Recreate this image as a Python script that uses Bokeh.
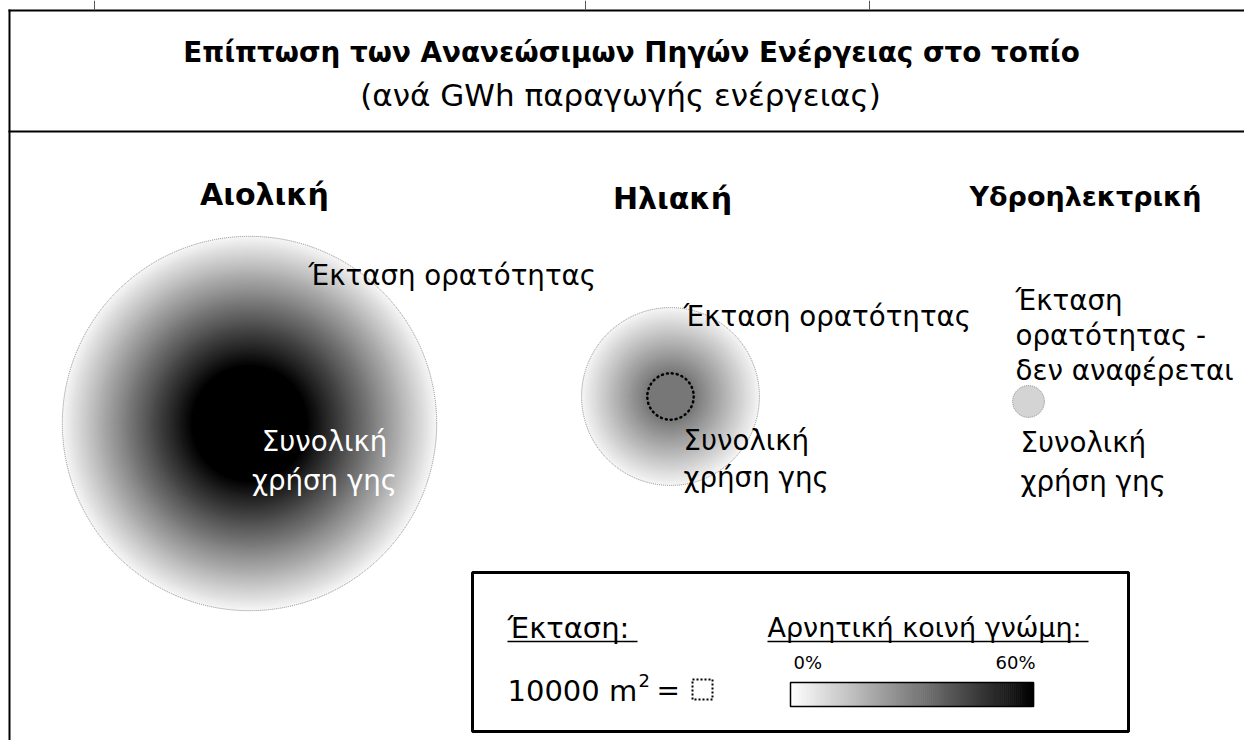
import math
from bokeh.plotting import figure
from bokeh.models import Range1d
from bokeh.core.properties import value
from bokeh.embed import file_html
from bokeh.resources import INLINE

# ---------------- data ----------------
title = "Επίπτωση των Ανανεώσιμων Πηγών Ενέργειας στο τοπίο"
subtitle = "(ανά GWh παραγωγής ενέργειας)"
categories = ["Αιολική", "Ηλιακή", "Υδροηλεκτρική"]
visibility_area_m2 = [2752000, 621000, None]       # Έκταση ορατότητας
land_use_area_m2 = [256000, 42300, 19850]          # Συνολική χρήση γης
negative_opinion_pct = [60, 32, 10]                # Αρνητική κοινή γνώμη
opinion_scale_pct = [0, 60]
opinion_tick_labels = ["0%", "60%"]
unit_area_m2 = 10000
visibility_label = [["Έκταση ορατότητας"], ["Έκταση ορατότητας"],
                    ["Έκταση", "ορατότητας -", "δεν αναφέρεται"]]
land_label = ["Συνολική", "χρήση γης"]

# ---------------- layout ----------------
FONT = "DejaVu Sans"
BOLD_FONT = "DejaVu Sans"
W, H = 1244, 740
UNIT_PX = 20.0                       # side of the 10000 m2 square in px
PX2_PER_M2 = UNIT_PX ** 2 / unit_area_m2
centers = [(249, 423), (670, 396), (1028, 401)]
EDGE_L = 0.96

p = figure(width=W, height=H, x_range=Range1d(0, W), y_range=Range1d(H, 0),
           output_backend="svg", toolbar_location=None, min_border=0,
           x_axis_location=None, y_axis_location=None)
p.grid.visible = False
p.outline_line_color = None
p.background_fill_color = "white"
p.border_fill_color = "white"


def radius_px(area):
    return math.sqrt(area * PX2_PER_M2 / math.pi)


def grey(l):
    v = int(round(max(0.0, min(1.0, l)) * 255))
    return "#%02x%02x%02x" % (v, v, v)


def txt(x, y, s, size, bold=False, color="black", align="left"):
    p.text(x=[x], y=[y], text=[s], text_font=value(BOLD_FONT if bold else FONT),
           text_font_size=f"{size}px", text_font_style="bold" if bold else "normal",
           text_color=color, text_align=align, text_baseline="middle")


def lines(x, y0, dy, items, size, **kw):
    for j, s in enumerate(items):
        txt(x, y0 + j * dy, s, size, **kw)


# frame lines
p.segment(x0=[9, 8, 8], y0=[9, 10, 131], x1=[9, W, W], y1=[H, 10, 131],
          line_color="black", line_width=2)
p.segment(x0=[94, 585, 869], y0=[0, 0, 0], x1=[94, 585, 869], y1=[9, 9, 9],
          line_color="#555555", line_width=1)

# title
txt(631, 52, title, 27.8, bold=True, align="center")
txt(620, 94, subtitle, 31, align="center")

# circles
for i, cat in enumerate(categories):
    cx, cy = centers[i]
    r_land = radius_px(land_use_area_m2[i])
    l_center = 1.0 - negative_opinion_pct[i] / opinion_scale_pct[1]
    if visibility_area_m2[i] is not None:
        R = radius_px(visibility_area_m2[i])
        n = 120
        rs, cols = [], []
        for k in range(n):
            t = 1.0 - k / n
            r = r_land + (R - r_land) * t
            rs.append(r)
            cols.append(grey(l_center + (EDGE_L - l_center) * t))
        p.circle(x=[cx] * n, y=[cy] * n, radius=rs, fill_color=cols, line_color=None)
        p.circle(x=[cx], y=[cy], radius=[r_land], fill_color=grey(l_center), line_color=None)
        p.circle(x=[cx], y=[cy], radius=[R], fill_color=None, line_color="#8a8a8a",
                 line_width=1, line_dash="1 1")
        p.circle(x=[cx], y=[cy], radius=[r_land], fill_color=None, line_color="black",
                 line_width=2.5, line_dash="1 4", line_cap="round")
    else:
        p.circle(x=[cx], y=[cy], radius=[r_land], fill_color=grey(l_center),
                 line_color="#8a8a8a", line_width=1, line_dash="1 1")

# category headers
txt(264, 194, categories[0], 30, bold=True, align="center")
txt(672, 198, categories[1], 30, bold=True, align="center")
txt(1085, 196, categories[2], 27, bold=True, align="center")

# labels
txt(308, 275, visibility_label[0][0], 27.7)
txt(683, 316, visibility_label[1][0], 27.7)
lines(1015, 300, 35, visibility_label[2], 27.7)
lines(324, 441, 39, land_label, 27.7, color="white", align="center")
lines(683, 440, 37, land_label, 27.7)
lines(1020, 442, 39, land_label, 27.7)

# legend box
p.quad(left=[472], right=[1128], top=[572], bottom=[731], fill_color=None,
       line_color="black", line_width=3)
txt(507, 627, "Έκταση:", 29)
p.segment(x0=[507], y0=[641], x1=[637], y1=[641], line_color="black", line_width=1.5)
txt(507, 690, "10000 m", 29)
txt(638, 680, "2", 18)
txt(656, 690, "=", 28)
p.quad(left=[692], right=[692 + UNIT_PX], top=[679], bottom=[679 + UNIT_PX],
       fill_color=None, line_color="black", line_width=2, line_dash="2 2")
txt(767, 627, "Αρνητική κοινή γνώμη:", 27)
p.segment(x0=[767], y0=[641], x1=[1088], y1=[641], line_color="black", line_width=1.5)

bx0, bx1, by0, by1 = 790, 1033, 682, 706
nb = 120
span = opinion_scale_pct[1] - opinion_scale_pct[0]
lefts, rights, cols = [], [], []
for k in range(nb):
    v0 = opinion_scale_pct[0] + span * k / nb
    v1 = opinion_scale_pct[0] + span * (k + 1) / nb
    lefts.append(bx0 + (bx1 - bx0) * (v0 - opinion_scale_pct[0]) / span)
    rights.append(bx0 + (bx1 - bx0) * (v1 - opinion_scale_pct[0]) / span + 0.6)
    cols.append(grey(1.0 - (v0 + v1) / 2 / span))
p.quad(left=lefts, right=rights, top=[by0] * nb, bottom=[by1] * nb, fill_color=cols,
       line_color=None)
p.quad(left=[bx0], right=[bx1], top=[by0], bottom=[by1], fill_color=None,
       line_color="black", line_width=1.5)
txt(793, 662, opinion_tick_labels[0], 18)
txt(1035, 662, opinion_tick_labels[1], 18, align="right")

open("out.html", "w").write(file_html(p, INLINE))
